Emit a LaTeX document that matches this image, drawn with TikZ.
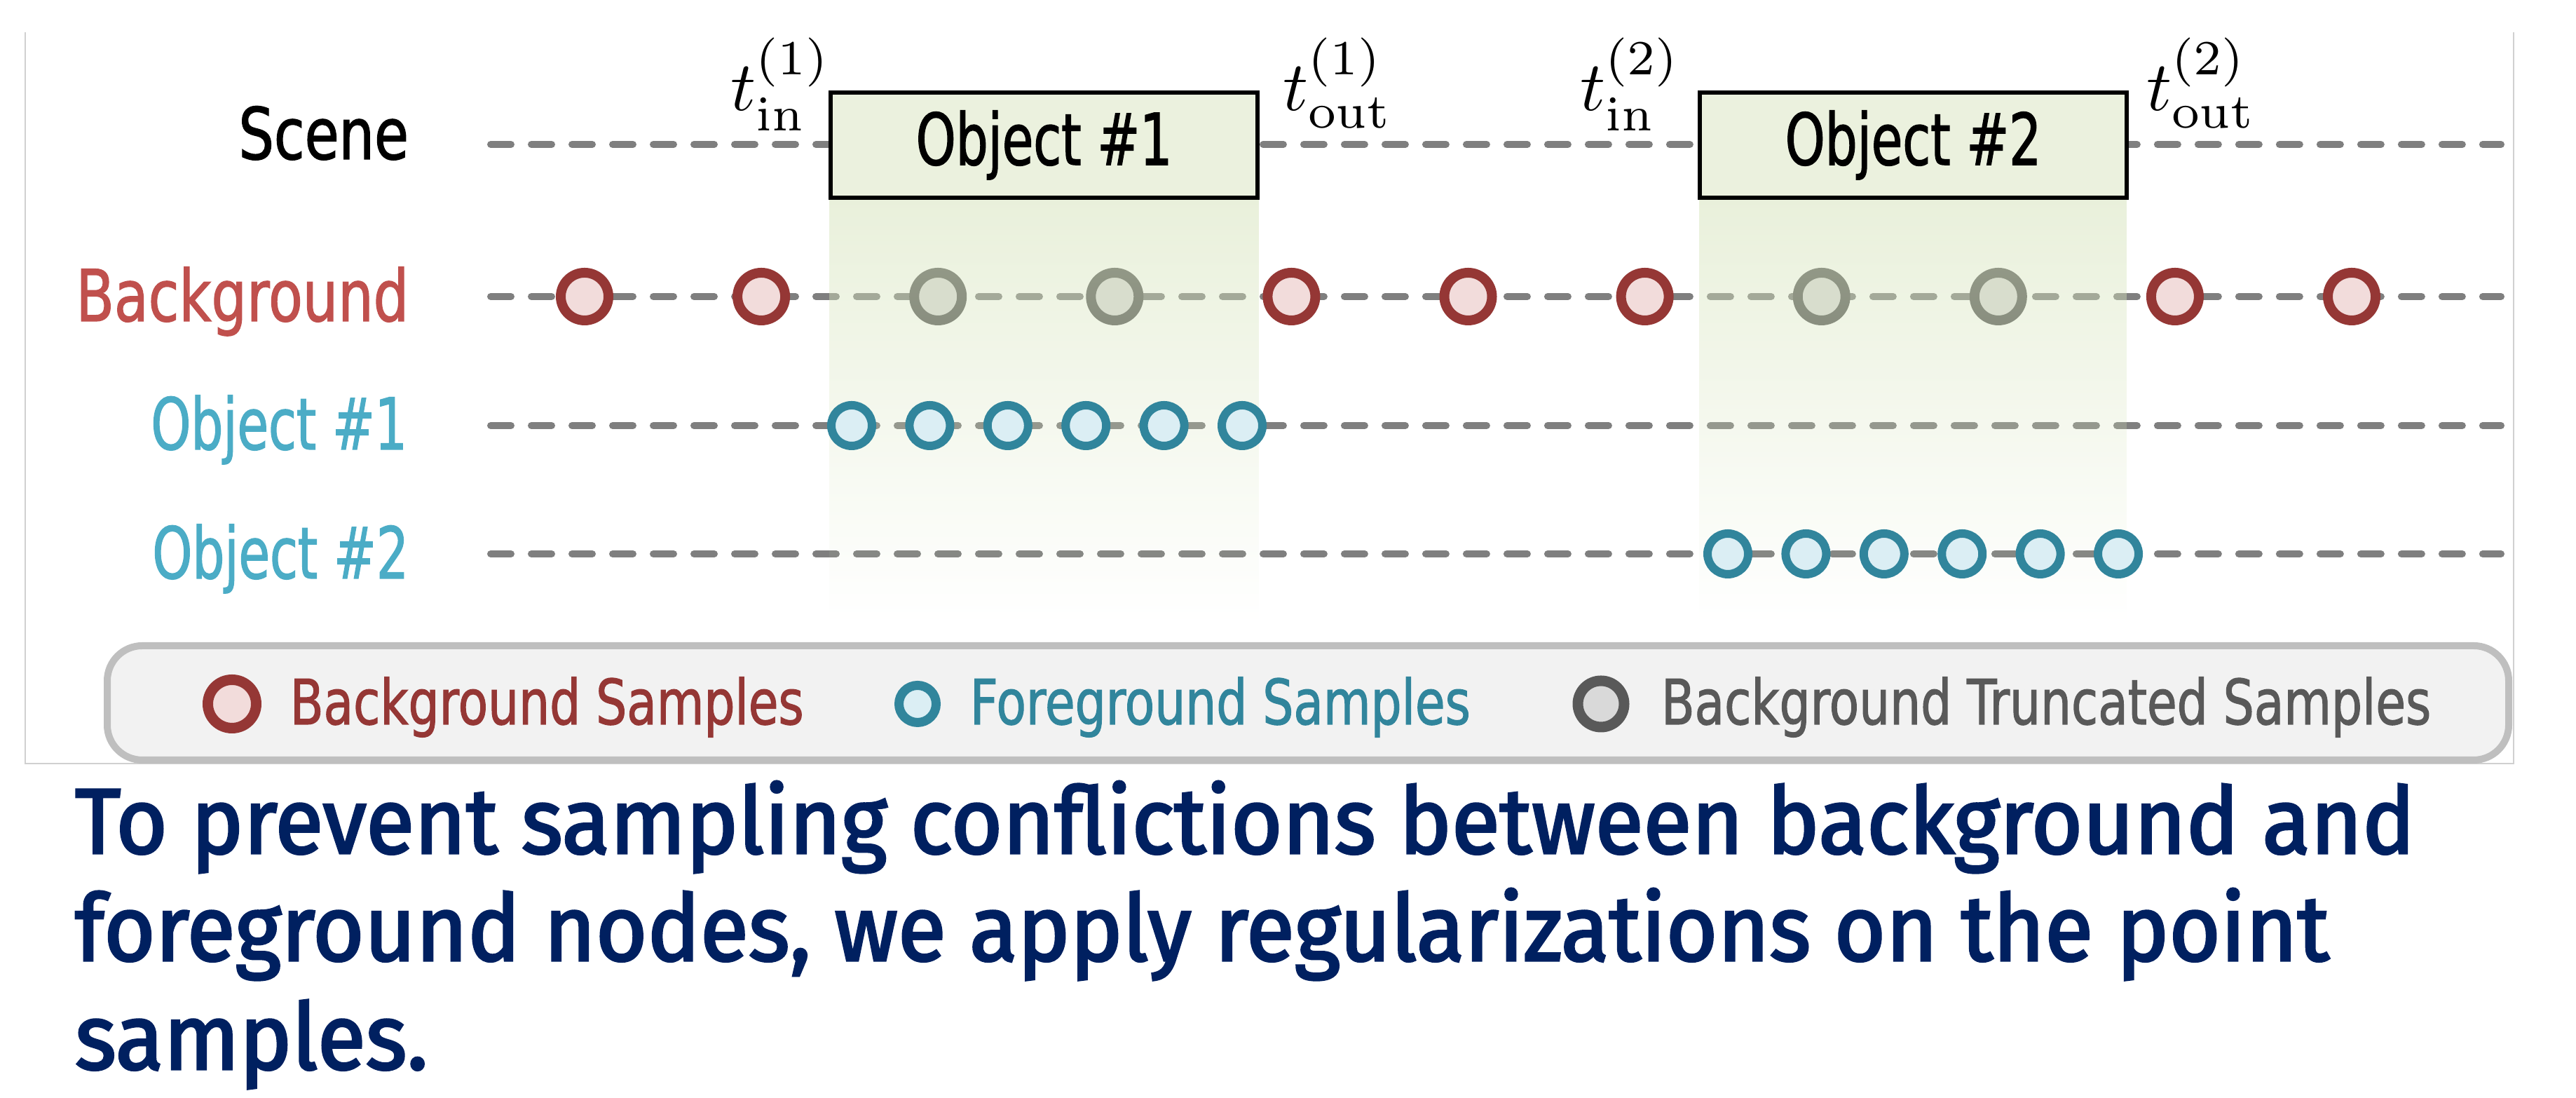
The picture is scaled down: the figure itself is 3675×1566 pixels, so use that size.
\documentclass[tikz,border=0pt]{standalone}
\usepackage[no-math]{fontspec}
\usetikzlibrary{fadings}
\newfontfamily\labfont{DejaVu Sans}[FakeStretch=0.78, FakeBold=1.3]
\newfontfamily\objfont{DejaVu Sans}[FakeStretch=0.71, FakeBold=1.3]
\newfontfamily\capfont{Fira Sans}[FakeStretch=0.956, FakeBold=2.4]

\definecolor{bgred}{HTML}{953735}
\definecolor{bgfill}{HTML}{F2DCDB}
\definecolor{fgteal}{HTML}{31859C}
\definecolor{fgfill}{HTML}{DBEEF4}
\definecolor{trgray}{HTML}{595959}
\definecolor{trfill}{HTML}{D9D9D9}
\definecolor{lanegray}{HTML}{7F7F7F}
\definecolor{boxfill}{HTML}{EBF1DE}
\definecolor{shadegreen}{HTML}{D7E4BD}
\definecolor{labred}{HTML}{C0504D}
\definecolor{labblue}{HTML}{4BACC6}
\definecolor{legfill}{HTML}{F2F2F2}
\definecolor{legline}{HTML}{BFBFBF}
\definecolor{framegray}{HTML}{D0D0D0}
\definecolor{capblue}{HTML}{002060}

% vertical fade used under each object's time window
\tikzfading[name=fadedown, top color=transparent!0, middle color=transparent!25, bottom color=transparent!100]

\tikzset{
  lane/.style={draw=lanegray, line width=1pt, dash pattern=on 2.9pt off 2.9pt, line cap=round},
  bgs/.style={circle, draw=bgred, fill=bgfill, line width=1.4pt, minimum size=6.8pt, inner sep=0pt},
  trs/.style={circle, draw=trgray, fill=trfill, line width=1.4pt, minimum size=6.8pt, inner sep=0pt},
  fgs/.style={circle, draw=fgteal, fill=fgfill, line width=1.2pt, minimum size=5.8pt, inner sep=0pt},
  objbox/.style={draw=black, line width=0.6pt, fill=boxfill, minimum width=60.9pt, minimum height=15pt,
    inner sep=0pt, font=\objfont\fontsize{10.2}{12}\selectfont},
  rowlab/.style={inner sep=0pt, anchor=base east, font=\labfont\fontsize{10.2}{12}\selectfont},
  objlab/.style={inner sep=0pt, anchor=base east, text=labblue, font=\objfont\fontsize{10.2}{12}\selectfont},
  tlab/.style={inner sep=0pt, font=\fontsize{10}{12}\selectfont},
  legtext/.style={inner sep=0pt, anchor=base west, font=\labfont\fontsize{8.9}{11}\selectfont},
  captext/.style={inner sep=0pt, anchor=base west, text=capblue, font=\capfont\fontsize{13.2}{16}\selectfont},
}

\begin{document}
\begin{tikzpicture}[x=0.1pt, y=-0.1pt]
\useasboundingbox (0,0) rectangle (3675,1566);

% thin frame round the figure
\draw[framegray, line width=0.25pt] (36,46) -- (36,1089) -- (3586,1089) -- (3586,46);

% time lanes
\foreach \y/\n in {206/scene, 423/back, 607/oa, 790/ob}{
  \coordinate (\n-s) at (700,\y);
  \coordinate (\n-e) at (3568,\y);
  \draw[lane] (\n-s) -- (\n-e);
}

% truncated background samples inside the object windows
\foreach \k in {2,3,7,8}
  \node[trs] (bg\k) at ({834+252.1*\k},423) {};

% object windows
\foreach \a/\b in {1183/1796, 2424/3034}
  \fill[shadegreen, fill opacity=0.55, path fading=fadedown] (\a,282) rectangle (\b,887);

% objects on the scene lane
\node[objbox] (obj1) at (1489.5,207) {Object \#1};
\node[objbox] (obj2) at (2729.5,207) {Object \#2};

% entry and exit times
\node[tlab, anchor=base east] (tin1)  at (1188,158) {$t_{\mathrm{in}}^{(1)}$};
\node[tlab, anchor=base west] (tout1) at (1828,158) {$t_{\mathrm{out}}^{(1)}$};
\node[tlab, anchor=base east] (tin2)  at (2400,158) {$t_{\mathrm{in}}^{(2)}$};
\node[tlab, anchor=base west] (tout2) at (3060,158) {$t_{\mathrm{out}}^{(2)}$};

% background samples
\foreach \k in {0,1,4,5,6,9,10}
  \node[bgs] (bg\k) at ({834+252.1*\k},423) {};

% foreground samples of each object
\foreach \k in {0,...,5}{
  \node[fgs] (fa\k) at ({1215+111.4*\k},607) {};
  \node[fgs] (fb\k) at ({2465+111.4*\k},790) {};
}

% lane labels
\node[rowlab] (lscene) at (585,227) {Scene};
\node[rowlab, text=labred] (lback) at (585,458) {Background};
\node[objlab] (lobja) at (583,641) {Object \#1};
\node[objlab] (lobjb) at (585,825) {Object \#2};

% legend
\draw[legline, fill=legfill, line width=1pt, rounded corners=5pt] (153,921) rectangle (3579,1084);
\node[circle, draw=bgred, fill=bgfill, line width=1.5pt, minimum size=6.9pt, inner sep=0pt] (kbg) at (331,1004) {};
\node[legtext, text=bgred] (tbg) at (412,1033) {Background Samples};
\node[circle, draw=fgteal, fill=fgfill, line width=1.3pt, minimum size=5.3pt, inner sep=0pt] (kfg) at (1309,1004) {};
\node[legtext, text=fgteal] (tfg) at (1382,1033) {Foreground Samples};
\node[circle, draw=trgray, fill=trfill, line width=1.5pt, minimum size=6.6pt, inner sep=0pt] (ktr) at (2284,1004) {};
\node[legtext, text=trgray] (ttr) at (2368,1033) {Background Truncated Samples};

% caption
\node[captext] (cap1) at (105,1217) {To prevent sampling conflictions between background and};
\node[captext] (cap2) at (105,1370) {foreground nodes, we apply regularizations on the point};
\node[captext] (cap3) at (105,1525) {samples.};
\end{tikzpicture}
\end{document}
